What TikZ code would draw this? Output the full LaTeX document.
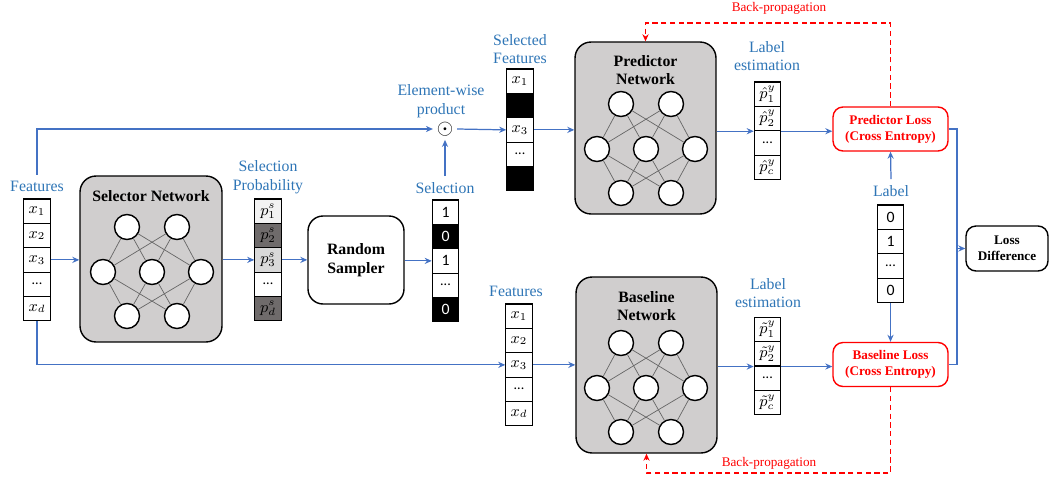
\documentclass[tikz,border=0pt]{standalone}
\usepackage{fontspec}
\setmainfont{Liberation Serif}
\newfontfamily\cellfont{Carlito}
\usetikzlibrary{arrows.meta}
\definecolor{lblue}{HTML}{2E75B6}
\definecolor{ablue}{HTML}{4472C4}
\definecolor{netgray}{HTML}{D0CECE}
\definecolor{plight}{HTML}{F2F2F2}
\definecolor{pmid}{HTML}{D9D9D9}
\definecolor{pdark}{HTML}{6F6B6B}
\newcommand{\celldots}{{\cellfont\footnotesize ...}}
\begin{document}
\begin{tikzpicture}[x=0.02cm,y=-0.02cm,
  every node/.style={font=\fontsize{9}{10.5}\selectfont},
  cell/.style={draw,line width=0.6pt,inner sep=0pt,minimum width=0.53cm,minimum height=0.487cm},
  net/.style={draw,thick,fill=netgray,rounded corners=0.32cm},
  title/.style={align=center,font=\fontsize{9}{10.5}\selectfont\bfseries},
  neuron/.style={draw,thick,circle,fill=white,inner sep=0pt,minimum size=0.5cm},
  link/.style={draw=black!60,line width=0.4pt},
  lbl/.style={text=lblue,align=center},
  wire/.style={draw=ablue,line width=0.7pt},
  arr/.style={wire,-{Stealth[length=4pt,width=3.5pt]}},
  loss/.style={draw=red,thick,rounded corners=0.2cm,text=red,align=center,font=\fontsize{7.5}{9}\selectfont\bfseries,minimum width=2.3cm,minimum height=0.88cm},
  bp/.style={draw=red,line width=0.7pt,dash pattern=on 3pt off 2pt,-{Stealth[length=4pt,width=3.5pt]}}]
\useasboundingbox (0,0) rectangle (1050,480);

\node[net,minimum width=2.84cm,minimum height=3.32cm] (sel) at (151,259) {};
\node[title] (selT) at (151,196) {Selector Network};
\node[net,minimum width=2.82cm,minimum height=3.44cm] (pre) at (645.5,128) {};
\node[title] (preT) at (645.5,70) {Predictor\\Network};
\node[net,minimum width=2.82cm,minimum height=3.52cm] (base) at (646.5,365) {};
\node[title] (baseT) at (646.5,306) {Baseline\\Network};
\foreach \n/\cx/\cy in {sel/152/272,pre/646/149,base/646/388} {
	\foreach \dx/\dy [count=\k] in {-25/-45,25/-45,-49/0,0/0,49/0,-25/44,25/44} {
		\node[neuron] (\n\k) at (\cx+\dx,\cy+\dy) {};
	}
	\foreach \a in {1,2} {
		\foreach \b in {3,4,5} {
			\draw[link] (\n\a) -- (\n\b);
		}
	}
	\foreach \a in {3,4,5} {
		\foreach \b in {6,7} {
			\draw[link] (\n\a) -- (\n\b);
		}
	}
}

\foreach \t [count=\i] in {$x_1$,$x_2$,$x_3$,\celldots,$x_d$} {
	\node[cell] (f\i) at (37,{199+24.35*(\i-0.5)}) {\t};
}
\foreach \t/\c [count=\i] in {$p_1^s$/plight,$p_2^s$/pdark,$p_3^s$/pmid,\celldots/white,$p_d^s$/pdark} {
	\node[cell,fill=\c] (p\i) at (268,{199+24.35*(\i-0.5)}) {\t};
}
\foreach \t/\c/\k [count=\i] in {1/white/black,0/black/white,1/white/black,\celldots/white/black,0/black/white} {
	\node[cell,fill=\c,text=\k,font=\cellfont\small] (s\i) at (445.5,{200+24.35*(\i-0.5)}) {\t};
}
\foreach \t/\c [count=\i] in {$x_1$/white,/black,$x_3$/white,\celldots/white,/black} {
	\node[cell,fill=\c] (sf\i) at (520,{69+24.35*(\i-0.5)}) {\t};
}
\foreach \t [count=\i] in {$x_1$,$x_2$,$x_3$,\celldots,$x_d$} {
	\node[cell] (g\i) at (519,{304+24.35*(\i-0.5)}) {\t};
}
\foreach \t [count=\i] in {$\hat{p}_1^y$,$\hat{p}_2^y$,\celldots,$\hat{p}_c^y$} {
	\node[cell] (pe\i) at (767.5,{82+24.35*(\i-0.5)}) {\t};
}
\foreach \t [count=\i] in {$\tilde{p}_1^y$,$\tilde{p}_2^y$,\celldots,$\tilde{p}_c^y$} {
	\node[cell] (be\i) at (767.5,{317.3+24.35*(\i-0.5)}) {\t};
}
\foreach \t [count=\i] in {0,1,\celldots,0} {
	\node[cell,font=\cellfont\small] (l\i) at (890.5,{205+24.35*(\i-0.5)}) {\t};
}

\node[draw,thick,fill=white,rounded corners=0.3cm,minimum width=1.92cm,minimum height=1.76cm,title] (rs) at (356,260) {Random\\Sampler};
\node[inner sep=2pt,font=\fontsize{13}{13}\selectfont] (prod) at (445,129) {$\odot$};
\node[loss] (pl) at (890.5,129) {Predictor Loss\\(Cross Entropy)};
\node[loss] (bl) at (890.5,364.5) {Baseline Loss\\(Cross Entropy)};
\node[draw,thick,rounded corners=0.2cm,minimum width=1.64cm,minimum height=0.9cm,align=center,font=\fontsize{7.5}{9}\selectfont\bfseries] (ld) at (1007,248.5) {Loss\\Difference};

\node[lbl] (featL) at (37,186) {Features};
\node[lbl] (probL) at (268,177) {Selection\\Probability};
\node[lbl] (selL) at (445,188) {Selection};
\node[lbl] (prodL) at (441,101) {Element-wise\\product};
\node[lbl] (sfL) at (520,49) {Selected\\Features};
\node[lbl] (peL) at (767,56) {Label\\estimation};
\node[lbl] (beL) at (768,293) {Label\\estimation};
\node[lbl] (gL) at (516,291) {Features};
\node[lbl] (labL) at (891,191) {Label};
\node[text=red,font=\fontsize{7.5}{9}\selectfont] (bpT) at (779,8) {Back-propagation};
\node[text=red,font=\fontsize{7.5}{9}\selectfont] (bpB) at (769,463) {Back-propagation};

\draw[arr] (featL.north) |- (prod.west);
\draw[arr] (f5.south) |- (g3.west);
\draw[arr] (f3.east) -- (f3.east -| sel.west);
\draw[arr] (sel.east |- p3) -- (p3.west);
\draw[arr] (p3.east) -- (p3.east -| rs.west);
\draw[arr] (rs.east |- s3) -- (s3.west);
\draw[arr] (selL.north) -- (prod.south);
\draw[arr] (prod.east) -- (sf3.west);
\draw[arr] (sf3.east) -- (sf3.east -| pre.west);
\draw[arr] (pre.east |- pe2.south) -- (pe2.south west);
\draw[arr] (pe2.south east) -- (pe2.south east -| pl.west);
\draw[arr] (g3.east) -- (g3.east -| base.west);
\draw[arr] (base.east |- be2.south) -- (be2.south west);
\draw[arr] (be2.south east) -- (be2.south east -| bl.west);
\draw[arr] (labL.north) -- (pl.south);
\draw[arr] (l4.south) -- (bl.north);
\coordinate (j) at (957,248.5);
\draw[wire] (pl.east) -| (j);
\draw[wire] (bl.east) -| (j);
\draw[arr] (j) -- (ld.west);

\coordinate (bpTc) at (645.5,23);
\coordinate (bpBc) at (646.5,473);
\draw[bp] (pl.north) |- (bpTc) -- (pre.north);
\draw[bp] (bl.south) |- (bpBc) -- (base.south);
\end{tikzpicture}
\end{document}
